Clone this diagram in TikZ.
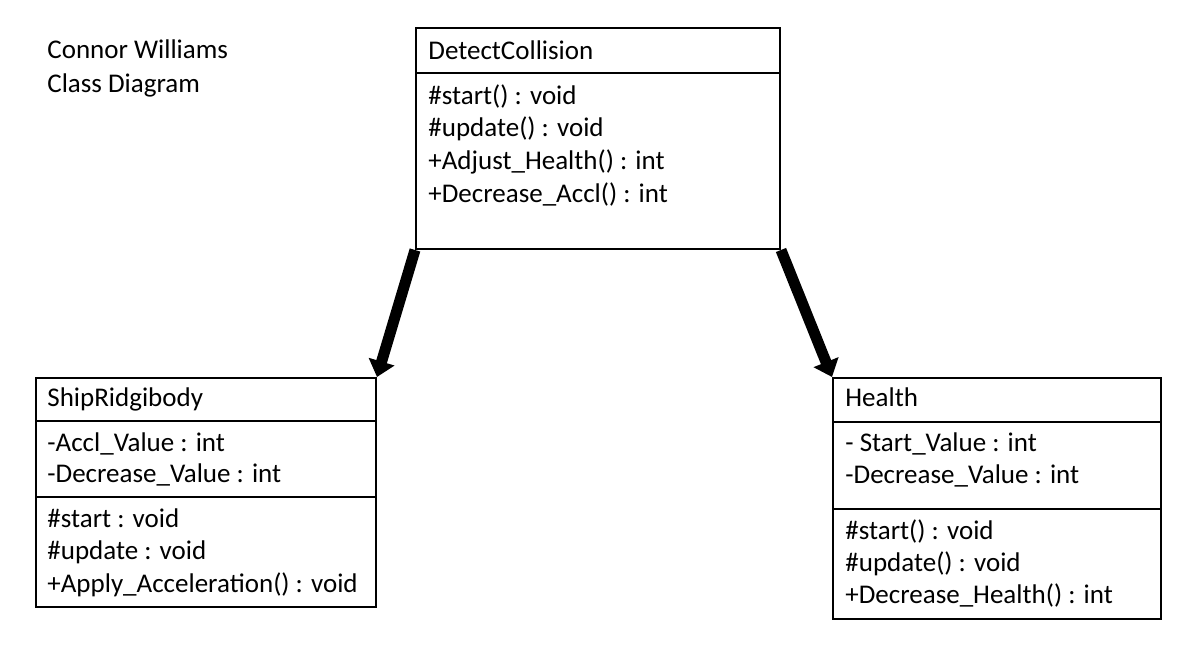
\documentclass[tikz,border=0pt]{standalone}
\usepackage{fontspec}
\setmainfont{Carlito}
\usetikzlibrary{arrows.meta}

\begin{document}
\begin{tikzpicture}
[x=0.5pt,y=-0.5pt,
  classDecorate/.style={shape=rectangle,draw,line width=1pt,inner sep=0pt,anchor=north west},%
  textDecorate/.style={anchor=base west,inner sep=0pt,font=\fontsize{13.5}{15}\selectfont},%
  lineDecorate/.style={line width=5.5pt,draw=black,-{Triangle[width=13pt,length=8pt]}}]
\useasboundingbox (0,0) rectangle (1190,656);
%% class boxes
\node (detect) at (415,27) [classDecorate,minimum width=182pt,minimum height=110.5pt] {};
\node (ship) at (35,377) [classDecorate,minimum width=170pt,minimum height=114.5pt] {};
\node (health) at (832,377) [classDecorate,minimum width=164pt,minimum height=120.5pt] {};
%% compartment lines
\foreach \xa/\xb/\y in {415/779/73, 35/375/421, 35/375/497, 832/1160/422, 832/1160/509} {
  \draw[line width=1pt] (\xa,\y) -- (\xb,\y);
}
%% texts
\foreach \nodename/\x/\y/\txt in {
  title1/47/59/{Connor Williams}, title2/47/93/{Class Diagram},
  detectName/428/60/{DetectCollision},
  detectM1/428/105/{\#start() : void}, detectM2/428/137/{\#update() : void},
  detectM3/428/170/{+Adjust\_Health() : int}, detectM4/428/203/{+Decrease\_Accl() : int},
  shipName/47/407/{ShipRidgibody},
  shipA1/47/452/{-Accl\_Value : int}, shipA2/47/483/{-Decrease\_Value : int},
  shipM1/47/528/{\#start : void}, shipM2/47/560/{\#update : void},
  shipM3/47/593/{+Apply\_Acceleration() : void},
  healthName/845/407/{Health},
  healthA1/845/452/{- Start\_Value : int}, healthA2/845/484/{-Decrease\_Value : int},
  healthM1/845/540/{\#start() : void}, healthM2/845/572/{\#update() : void},
  healthM3/845/604/{+Decrease\_Health() : int}} {
  \node (\nodename) at (\x,\y) [textDecorate] {\txt};
}
%% associations
\path
\foreach \startnode/\endnode in {detect.south west/ship.north east, detect.south east/health.north west} {
  (\startnode) edge[lineDecorate] (\endnode)
};
\end{tikzpicture}
\end{document}
